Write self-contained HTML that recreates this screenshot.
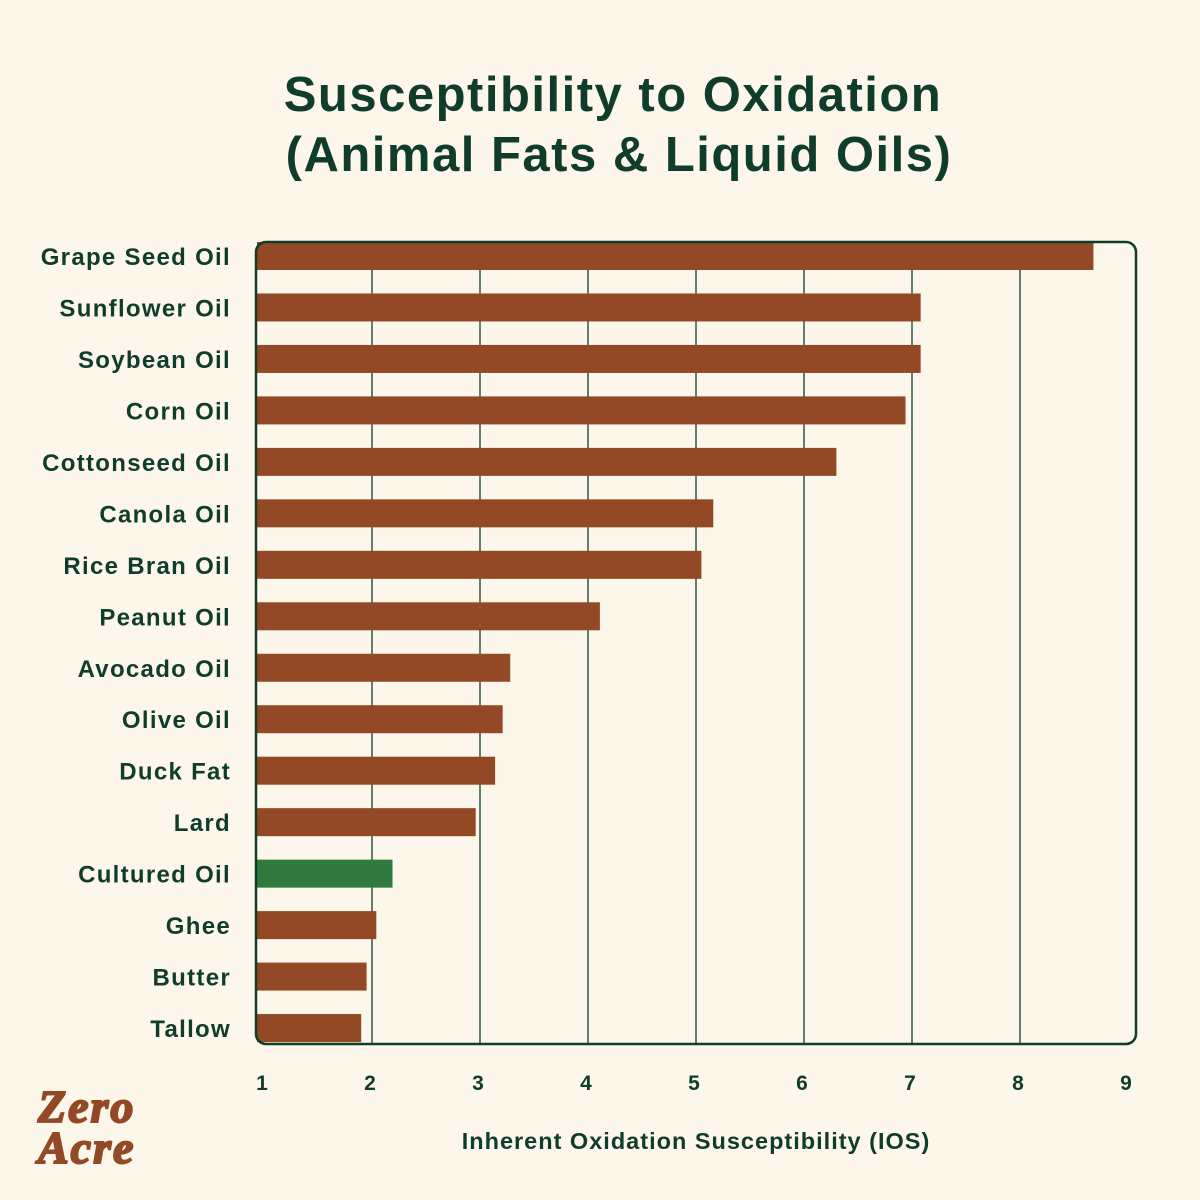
<!DOCTYPE html>
<html><head><meta charset="utf-8"><style>
html,body{margin:0;padding:0;background:#fdf6eb;}
svg{display:block;font-family:"Liberation Sans",sans-serif;}
</style></head><body>
<svg id="chart" width="1200" height="1200" viewBox="0 0 1200 1200">
<rect width="1200" height="1200" fill="#fdf6eb"/>
<text x="613" y="111" text-anchor="middle" font-size="49" font-weight="bold" letter-spacing="1.5" fill="#0f3d2a">Susceptibility to Oxidation</text>
<text x="619" y="171" text-anchor="middle" font-size="49" font-weight="bold" letter-spacing="1.5" fill="#0f3d2a">(Animal Fats &amp; Liquid Oils)</text>
<g id="grid"></g><g id="bars"></g><g id="labels"></g><g id="ticks"></g>
<rect x="256" y="242" width="880" height="802" rx="10" fill="none" stroke="#0f3d2a" stroke-width="2.5"/>
<text x="696" y="1149" text-anchor="middle" font-size="23.5" font-weight="bold" letter-spacing="1" fill="#0f3d2a">Inherent Oxidation Susceptibility (IOS)</text>
<g fill="#934826" stroke="#934826" stroke-width="2" font-family="'Liberation Serif',serif" font-weight="bold" font-style="italic">
<text x="38" y="1122" font-size="46" letter-spacing="2">Zero</text>
<text x="38" y="1163" font-size="46" letter-spacing="2">Acre</text>
</g>
</svg>
<script>
const categories=["Grape Seed Oil","Sunflower Oil","Soybean Oil","Corn Oil","Cottonseed Oil","Canola Oil","Rice Bran Oil","Peanut Oil","Avocado Oil","Olive Oil","Duck Fat","Lard","Cultured Oil","Ghee","Butter","Tallow"];
const values=[8.68,7.08,7.08,6.94,6.3,5.16,5.05,4.11,3.28,3.21,3.14,2.96,2.19,2.04,1.95,1.9];
const highlight=["Cultured Oil"];
const tickValues=[1,2,3,4,5,6,7,8,9];
const NS="http://www.w3.org/2000/svg";
const x=v=>264+(v-1)*108;
const yc=i=>256+i*51.47;
const bw=28;
function mk(t,a,p){const e=document.createElementNS(NS,t);for(const k in a)e.setAttribute(k,a[k]);p.appendChild(e);return e;}
const grid=document.getElementById('grid'),bars=document.getElementById('bars'),labels=document.getElementById('labels'),ticks=document.getElementById('ticks');
tickValues.forEach(t=>{
 if(t>1&&t<9){const l=mk('line',{x1:x(t),x2:x(t),y1:242,y2:1044,stroke:'#0f3d2a','stroke-width':1.3},grid);
 
 }
 const tx=mk('text',{x:x(t)-2,y:1090,'text-anchor':'middle','font-size':21,'font-weight':'bold',fill:'#0f3d2a'},ticks);
 tx.textContent=t;
 
 
});
categories.forEach((c,i)=>{
 const r=mk('rect',{x:257,y:yc(i)-bw/2,width:x(values[i])-257,height:bw,fill:highlight.includes(c)?'#2f7a3c':'#934826'},bars);
 
 
 const t=mk('text',{x:231,y:yc(i)+9,'text-anchor':'end','font-size':24,'font-weight':'bold','letter-spacing':1.3,fill:'#0f3d2a'},labels);
 t.textContent=c;
 
 
});
</script>
</body></html>
